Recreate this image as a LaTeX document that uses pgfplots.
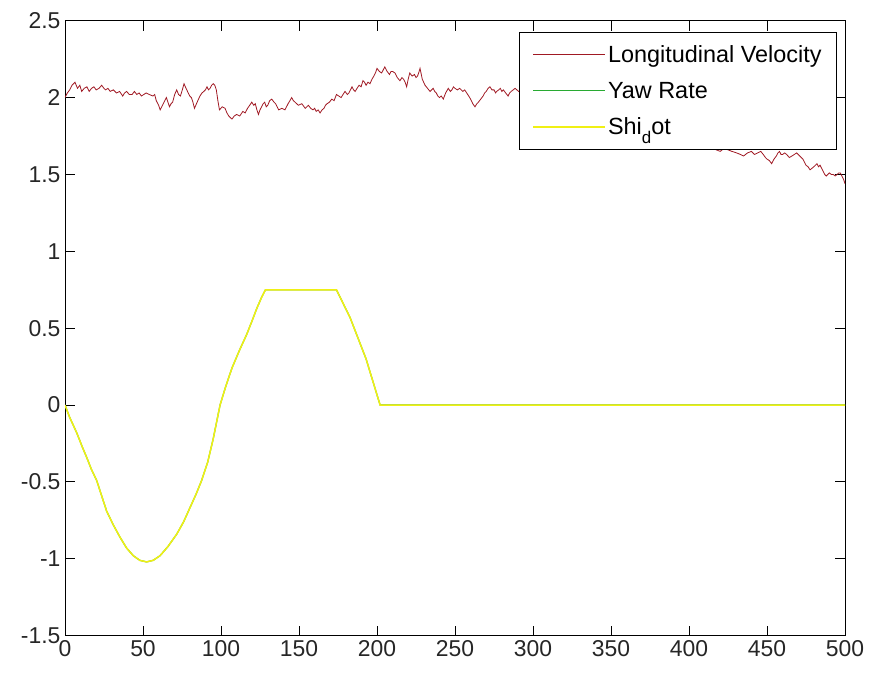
\documentclass[border=0pt]{standalone}
\usepackage{fontspec}
\setmainfont{Liberation Sans}
\usepackage{pgfplots}
\pgfplotsset{compat=1.18}
\usepackage{pgfplotstable}
\definecolor{mred}{RGB}{160,25,35}
\definecolor{mgreen}{RGB}{40,170,50}
\definecolor{myellow}{RGB}{240,240,20}
\pgfplotstableread{
x y
0 2.00
1.5 2.03
3 2.05
4.5 2.08
6.4 2.10
8 2.06
9.5 2.08
10.7 2.04
12.3 2.06
14 2.07
15.5 2.04
17 2.06
18.5 2.07
20 2.05
21.8 2.06
23.5 2.08
25 2.06
26 2.05
27.5 2.06
29 2.04
31 2.05
33 2.03
35 2.04
37 2.01
38.2 2.03
39.5 2.04
41.2 2.02
43 2.02
44.5 2.04
46 2.02
47.5 2.03
49 2.01
50.5 2.02
52 2.03
54 2.02
56.4 2.01
57.5 2.02
58.5 1.98
60 1.95
61 1.92
62 1.94
63 1.96
64 1.98
65 2.00
66 1.97
67 1.94
68 1.96
69 1.97
70.3 2.02
71.6 2.05
72.8 2.02
74 2.01
75.2 2.05
76.3 2.09
77.6 2.06
79 2.03
80 2.01
81 2.00
82 1.97
83 1.93
84.7 1.97
86.5 2.01
87.8 2.03
89 2.04
90 2.05
91 2.07
92 2.05
93 2.06
94 2.08
95 2.09
96 2.08
97 2.05
98 1.98
99 1.92
100.8 1.94
102.6 1.93
103.8 1.90
105 1.88
106 1.87
107 1.86
108.5 1.88
110 1.89
112 1.88
114 1.91
115.5 1.90
117 1.93
118.4 1.95
119.7 1.97
121 1.95
122 1.96
123 1.92
124 1.89
125 1.92
126 1.94
127 1.96
128 1.97
129 1.94
130 1.95
131.2 1.98
132.5 1.99
134 1.97
135 1.96
136 1.94
137 1.92
139 1.93
141 1.92
142 1.94
143 1.96
144.2 1.98
145.3 2.00
146.4 1.98
147.5 1.97
148.5 1.96
149.6 1.95
151.8 1.96
154 1.93
155 1.94
156 1.95
157.5 1.93
159 1.92
160 1.93
161 1.91
162.3 1.92
163.5 1.90
164.8 1.92
166 1.93
167 1.95
168 1.96
169.5 1.97
171 1.99
172.5 1.98
174 2.02
175.5 2.01
177 2.00
178.2 2.02
179.5 2.04
181 2.02
182 2.03
183 2.05
184 2.07
185 2.05
186 2.04
187.2 2.06
188.5 2.08
189.8 2.07
191 2.11
192 2.10
193 2.08
194.2 2.10
195.5 2.09
196.8 2.12
198 2.14
199 2.16
200 2.19
201.5 2.17
203 2.16
204 2.18
205 2.20
206.5 2.17
208 2.15
209 2.17
210 2.17
211.5 2.16
213 2.13
214.7 2.11
216 2.13
217 2.12
218 2.10
219 2.07
220 2.12
221 2.16
222.5 2.14
224 2.15
225 2.13
226 2.14
227 2.17
227.6 2.19
229 2.12
230.8 2.08
232.4 2.06
234 2.04
235 2.05
236 2.06
237 2.04
238 2.03
239 2.01
240 2.00
241.2 2.01
242.5 1.99
244 2.03
245.7 2.06
247 2.04
248 2.05
249 2.07
250 2.06
251.5 2.05
253 2.06
254 2.05
255 2.04
256.2 2.05
257.5 2.03
258.8 2.01
260 1.99
261.4 1.96
262.8 1.94
264 1.96
265 1.97
266.5 1.99
268 2.01
269 2.03
270 2.04
271.2 2.06
272.4 2.07
273.7 2.05
275 2.05
276 2.03
276.7 2.04
278 2.05
279 2.06
280 2.04
281 2.05
282.5 2.03
284 2.01
285 2.03
286 2.04
287.3 2.05
288.5 2.06
292 2.03
297 2.05
302 2.01
308 2.04
314 1.99
320 2.00
326 1.96
332 1.98
338 1.93
344 1.95
350 1.90
356 1.88
362 1.90
368 1.84
374 1.83
380 1.80
386 1.81
392 1.76
398 1.74
404 1.72
410 1.69
415 1.67
420 1.65
422.5 1.67
425 1.66
427.5 1.65
430.5 1.64
433 1.63
435 1.62
437.5 1.64
440 1.65
442 1.63
444 1.64
446 1.65
447.6 1.63
449 1.61
450 1.60
451.5 1.59
453 1.57
454.5 1.60
456 1.62
457 1.64
458 1.65
459 1.63
460 1.63
461.3 1.64
462.6 1.63
464.3 1.61
466 1.62
467.5 1.63
469 1.64
470 1.63
471 1.62
472 1.61
473 1.60
474 1.58
475 1.56
476.3 1.55
477.6 1.53
478.8 1.54
480 1.55
481 1.56
482 1.57
483 1.55
484 1.56
485 1.54
486 1.52
487 1.50
488 1.49
489 1.50
490 1.51
491.2 1.50
492.5 1.50
493.7 1.49
495 1.50
496 1.51
497 1.51
498 1.49
499 1.47
500 1.44
}\velocity
\pgfplotstableread{
x y
0 0
3 -0.08
7.5 -0.18
11 -0.27
13.9 -0.34
17 -0.42
20.3 -0.49
23.5 -0.59
26.7 -0.69
31 -0.78
35.3 -0.86
39.5 -0.93
43.8 -0.98
48 -1.01
52.3 -1.02
56.5 -1.01
60.9 -0.98
66 -0.92
71.6 -0.84
76 -0.76
80 -0.67
84 -0.58
87.6 -0.49
91.5 -0.37
95 -0.22
99.4 0
103 0.12
107 0.24
112 0.36
116.5 0.46
120 0.55
123 0.63
126 0.70
128.5 0.75
174 0.75
182.7 0.57
193 0.30
202 0
500 0
}\shidot
\begin{document}
\begin{tikzpicture}
\begin{axis}[
  scale only axis,
  width=780bp, height=615bp,
  xmin=0, xmax=500, ymin=-1.5, ymax=2.5,
  xtick={0,50,...,500},
  xticklabels={0,50,100,150,200,250,300,350,400,450,500},
  ytick={-1.5,-1,-0.5,0,0.5,1,1.5,2,2.5},
  yticklabels={-1.5,-1,-0.5,0,0.5,1,1.5,2,2.5},
  tick align=inside,
  major tick length=10bp,
  tick style={black, line width=0.9bp},
  axis line style={line width=0.9bp},
  tick label style={font=\fontsize{23}{25}\selectfont, color=black!85},
  xticklabel style={yshift=-1bp},
  yticklabel style={xshift=-1bp},
  legend style={at={(0.9897,0.9816)}, anchor=north east, draw=black, line width=0.9bp, fill=white,
    font=\fontsize{23.5}{26}\selectfont, inner xsep=13bp, inner ysep=11bp,
    nodes={inner sep=2bp}, row sep=14bp},
  legend cell align=left,
  legend image code/.code={\draw[#1] (0bp,0bp) -- (72bp,0bp);},
]
\addplot[mred, line width=0.8bp] table[x=x,y=y] {\velocity};
\addlegendentry{Longitudinal Velocity}
\addplot[mgreen, line width=1.2bp] table[x=x,y=y] {\shidot};
\addlegendentry{Yaw Rate}
\addplot[myellow, line width=1.5bp] table[x=x,y=y] {\shidot};
\addlegendentry{Shi\raisebox{-0.4em}{\fontsize{17}{17}\selectfont d}ot}
\end{axis}
\useasboundingbox (-65bp,-37bp) rectangle (804bp,635.7bp);
\end{tikzpicture}
\end{document}
